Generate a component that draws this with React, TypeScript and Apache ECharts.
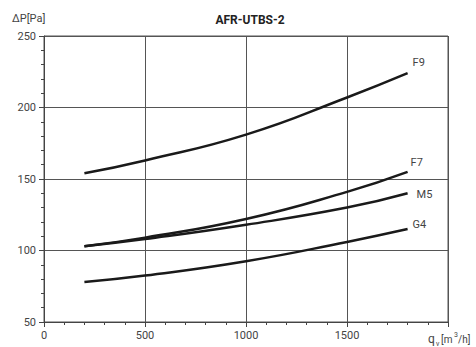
import React, { useEffect, useRef } from "react";
import * as echarts from "echarts";

const flows = [200, 500, 1000, 1500, 1800];
const f9 = [154, 163, 181, 207, 224];
const f7 = [103, 109, 122, 141, 155];
const m5 = [103, 108, 118, 130, 140];
const g4 = [78, 82.5, 92.5, 106, 115];
const seriesNames = ["F9", "F7", "M5", "G4"];
const yTicks = [50, 100, 150, 200, 250];
const xTicks = [0, 500, 1000, 1500, 2000];

export default function App() {
  const ref = useRef<HTMLDivElement>(null);
  useEffect(() => {
    const chart = echarts.init(ref.current!, null, { renderer: "svg" });
    const all = [f9, f7, m5, g4];
    const labelOffsets: [number, number][] = [
      [-3, -11],
      [-5, -9],
      [1, 1],
      [-3, -5],
    ];
    const font = "Roboto, 'DejaVu Sans', sans-serif";
    const xMax = xTicks[xTicks.length - 1];
    chart.setOption({
      animation: false,
      title: {
        text: "AFR-UTBS-2",
        left: 245,
        textAlign: "center",
        top: 9,
        textStyle: { fontSize: 12, fontWeight: "bold", color: "#222", fontFamily: font },
      },
      grid: {
        left: 44,
        right: 28,
        top: 36,
        bottom: 25,
        show: true,
        borderColor: "#555",
        borderWidth: 1,
      },
      xAxis: {
        type: "value",
        min: xTicks[0],
        max: xMax,
        interval: 500,
        axisLine: { lineStyle: { color: "#444", width: 1 } },
        axisTick: { length: 5, lineStyle: { color: "#444" } },
        minorTick: { show: true, splitNumber: 5, length: 3, lineStyle: { color: "#444" } },
        splitLine: { show: true, lineStyle: { color: "#555", width: 1 } },
        axisLabel: {
          color: "#444",
          fontSize: 11,
          fontFamily: font,
          margin: 8,
          formatter: (v: number) => (v === xMax ? "" : String(v)),
        },
      },
      yAxis: {
        type: "value",
        min: yTicks[0],
        max: yTicks[yTicks.length - 1],
        interval: 50,
        axisLine: { show: true, lineStyle: { color: "#444", width: 1 } },
        axisTick: { show: true, length: 5, lineStyle: { color: "#444" } },
        minorTick: { show: true, splitNumber: 5, length: 3, lineStyle: { color: "#444" } },
        splitLine: { show: true, lineStyle: { color: "#555", width: 1 } },
        axisLabel: { color: "#444", fontSize: 11, fontFamily: font, margin: 8, formatter: (v: number) => String(v) },
      },
      graphic: [
        { type: "text", left: 12, top: 13, style: { text: "\u0394P[Pa]", fontSize: 11, fill: "#444", fontFamily: font } },
        { type: "text", left: 428, top: 333, style: { text: "q", fontSize: 12, fill: "#444", fontFamily: font } },
        { type: "text", left: 436, top: 340, style: { text: "v", fontSize: 7, fill: "#444", fontFamily: font } },
        { type: "text", left: 441, top: 334, style: { text: "[m", fontSize: 10, fill: "#444", fontFamily: font } },
        { type: "text", left: 454, top: 331, style: { text: "3", fontSize: 7, fill: "#444", fontFamily: font } },
        { type: "text", left: 458, top: 334, style: { text: "/h]", fontSize: 10, fill: "#444", fontFamily: font } },
      ],
      series: all.map((vals, i) => ({
        type: "line",
        name: seriesNames[i],
        smooth: true,
        symbol: "none",
        lineStyle: { color: "#1a1a1a", width: 2.5 },
        endLabel: {
          show: true,
          formatter: seriesNames[i],
          offset: labelOffsets[i],
          color: "#444",
          fontSize: 11,
          fontWeight: "normal",
          fontFamily: font,
        },
        data: flows.map((x, j) => [x, vals[j]]),
      })),
    });
    return () => chart.dispose();
  }, []);
  return <div ref={ref} style={{ width: 476, height: 347, position: "absolute", left: 0, top: 0, background: "#fff" }} />;
}
